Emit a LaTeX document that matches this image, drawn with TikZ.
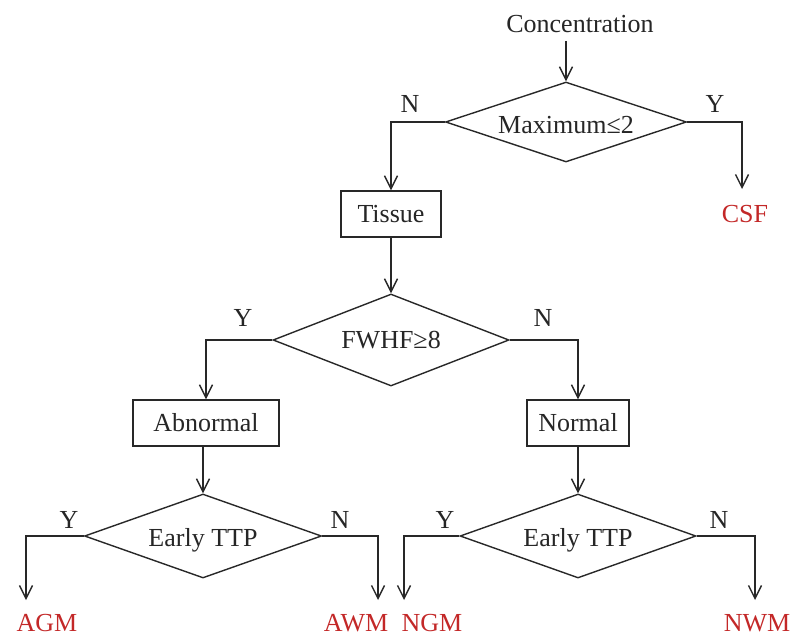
\documentclass[tikz,border=0pt]{standalone}
\usepackage{fontspec}
\setmainfont{Liberation Serif}
\usetikzlibrary{shapes.geometric,arrows.meta}
\definecolor{linec}{RGB}{40,40,40}
\definecolor{outred}{RGB}{195,40,40}
\tikzset{
  every node/.style={font=\fontsize{26}{31}\selectfont, text=black!85},
  box/.style={draw=linec, line width=1.4pt, minimum height=46pt, inner sep=0pt},
  dec/.style={draw=linec, line width=1.4pt, diamond, inner sep=0pt, aspect=4},
  lbl/.style={inner sep=0pt},
  outc/.style={inner sep=0pt, text=outred},
  arr/.style={draw=linec, line width=1.4pt, -{Straight Barb[length=13pt,width=13pt,line width=1.4pt]}},
  ln/.style={draw=linec, line width=1.4pt}
}
\begin{document}
\begin{tikzpicture}[x=1pt,y=-1pt]
\useasboundingbox (0,0) rectangle (794,637);
% nodes
\node[lbl] (conc) at (580,24) {Concentration};
\node[dec, minimum width=241pt, minimum height=80pt] (d1) at (566,122) {};
\node[lbl] (d1t) at (566,125) {Maximum≤2};
\node[lbl] (n1) at (410,104) {N};
\node[lbl] (y1) at (715,104) {Y};
\node[outc] (csf) at (745,214) {CSF};
\node[box, minimum width=100pt] (tissue) at (391,214) {Tissue};
\node[dec, minimum width=236pt, minimum height=92pt] (d2) at (391,340) {};
\node[lbl] (d2t) at (391,340) {FWHF≥8};
\node[lbl] (y2) at (243,318) {Y};
\node[lbl] (n2) at (543,318) {N};
\node[box, minimum width=146pt] (abn) at (206,423) {Abnormal};
\node[box, minimum width=102pt] (nor) at (578,423) {Normal};
\node[dec, minimum width=237pt, minimum height=84pt] (d3) at (203,536) {};
\node[lbl] (d3t) at (203,540) {Early TTP};
\node[dec, minimum width=236pt, minimum height=84pt] (d4) at (578,536) {};
\node[lbl] (d4t) at (578,540) {Early TTP};
\node[lbl] (y3) at (69,520) {Y};
\node[lbl] (n3) at (340,520) {N};
\node[lbl] (y4) at (445,520) {Y};
\node[lbl] (n4) at (719,520) {N};
\node[outc] (agm) at (47,623) {AGM};
\node[outc] (awm) at (356,623) {AWM};
\node[outc] (ngm) at (432,623) {NGM};
\node[outc] (nwm) at (757,623) {NWM};
% arrow end points
\coordinate (csfend) at (742,189);
\coordinate (agmend) at (26,600);
\coordinate (awmend) at (378,600);
\coordinate (ngmend) at (404,600);
\coordinate (nwmend) at (755,600);
% connectors
\draw[arr] (conc.south -| d1.north) ++(0,8) -- (d1.north);
\draw[arr] (d1.west) -| (tissue.north);
\draw[arr] (d1.east) -| (csfend);
\draw[arr] (tissue.south) -- (d2.north);
\draw[arr] (d2.west) -| (abn.north);
\draw[arr] (d2.east) -| (nor.north);
\draw[arr] (abn.south -| d3.north) -- (d3.north);
\draw[arr] (nor.south) -- (d4.north);
\draw[arr] (d3.west) -| (agmend);
\draw[arr] (d3.east) -| (awmend);
\draw[arr] (d4.west) -| (ngmend);
\draw[arr] (d4.east) -| (nwmend);
\end{tikzpicture}
\end{document}
